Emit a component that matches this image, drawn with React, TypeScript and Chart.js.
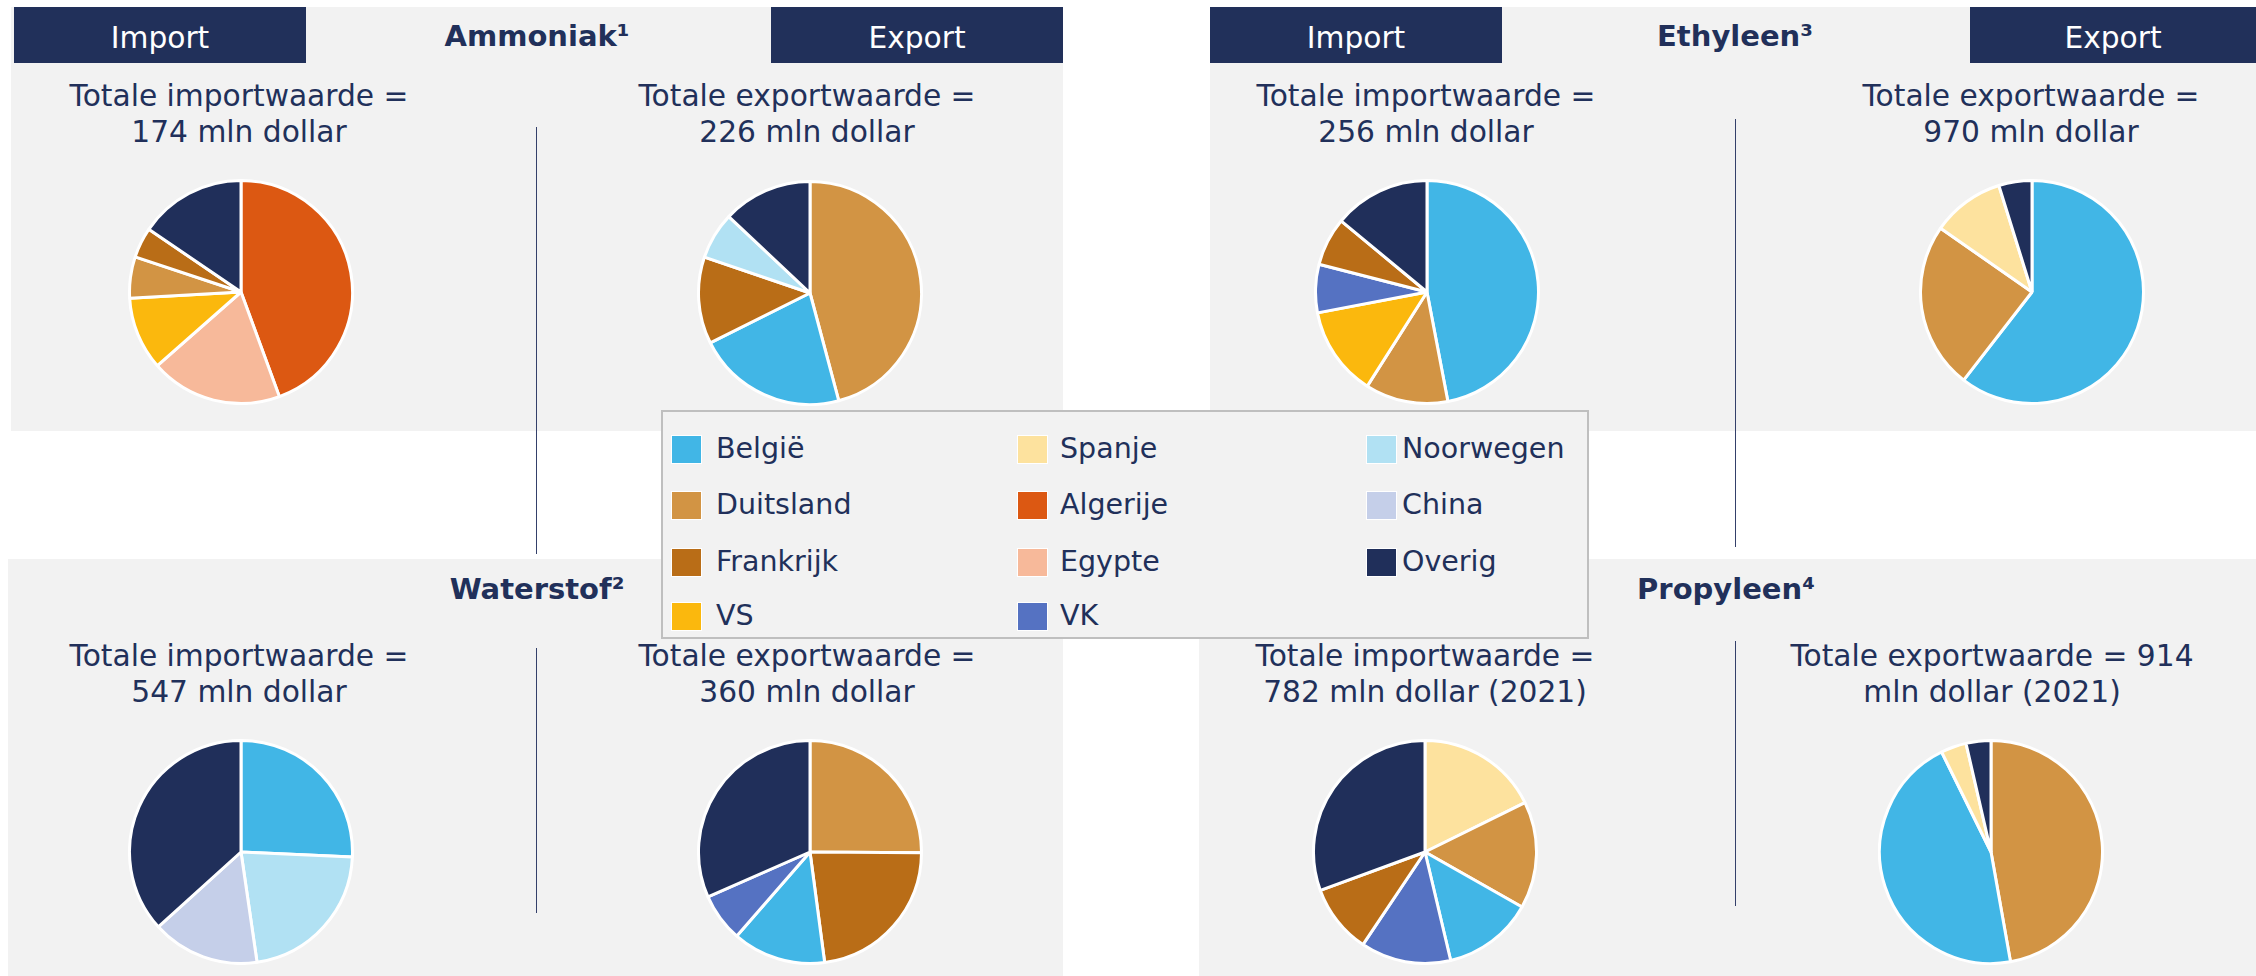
import React, { useEffect, useRef } from "react";
import { Chart, registerables } from "chart.js";
Chart.register(...registerables);

// ---------- DATA ----------
const legendLabels = ["België", "Spanje", "Noorwegen", "Duitsland", "Algerije", "China", "Frankrijk", "Egypte", "Overig", "VS", "VK"];

const ammoniakImportLabels = ["Algerije", "Egypte", "VS", "Duitsland", "Frankrijk", "Overig"];
const ammoniakImportValues = [44.4, 19.1, 10.6, 6.0, 4.4, 15.5];
const ammoniakExportLabels = ["Duitsland", "België", "Frankrijk", "Noorwegen", "Overig"];
const ammoniakExportValues = [45.9, 21.8, 12.6, 6.8, 13.0];

const ethyleenImportLabels = ["België", "Duitsland", "VS", "VK", "Frankrijk", "Overig"];
const ethyleenImportValues = [47, 12, 13, 7, 7, 14];
const ethyleenExportLabels = ["België", "Duitsland", "Spanje", "Overig"];
const ethyleenExportValues = [60.5, 24.2, 10.5, 4.8];

const waterstofImportLabels = ["België", "Noorwegen", "China", "Overig"];
const waterstofImportValues = [25.7, 22.0, 15.6, 36.7];
const waterstofExportLabels = ["Duitsland", "Frankrijk", "België", "VK", "Overig"];
const waterstofExportValues = [25.1, 22.8, 13.5, 7.0, 31.6];

const propyleenImportLabels = ["Spanje", "Duitsland", "België", "VK", "Frankrijk", "Overig"];
const propyleenImportValues = [17.7, 15.5, 13.1, 13.1, 10.0, 30.6];
const propyleenExportLabels = ["Duitsland", "België", "Spanje", "Overig"];
const propyleenExportValues = [47.2, 45.5, 3.7, 3.6];

const titles = ["Ammoniak¹", "Ethyleen³", "Waterstof²", "Propyleen⁴"];
const importTexts = [
  ["Totale importwaarde =", "174 mln dollar"],
  ["Totale importwaarde =", "256 mln dollar"],
  ["Totale importwaarde =", "547 mln dollar"],
  ["Totale importwaarde =", "782 mln dollar (2021)"],
];
const exportTexts = [
  ["Totale exportwaarde =", "226 mln dollar"],
  ["Totale exportwaarde =", "970 mln dollar"],
  ["Totale exportwaarde =", "360 mln dollar"],
  ["Totale exportwaarde = 914", "mln dollar (2021)"],
];

// ---------- STYLE ----------
const NAVY = "#21305a";
const TEXT = "#21305a";
const PANEL = "#f2f2f2";
const FONT = "'DejaVu Sans', Verdana, sans-serif";

const countryColors: Record<string, string> = {
  "België": "#41b6e6",
  "Spanje": "#fde29e",
  "Noorwegen": "#b1e1f3",
  "Duitsland": "#d29444",
  "Algerije": "#dc5812",
  "China": "#c5cfe9",
  "Frankrijk": "#b96d17",
  "Egypte": "#f7b99a",
  "Overig": "#202f5a",
  "VS": "#fbb80d",
  "VK": "#5572c2",
};

const PIE_SIZE = 226;

function Pie({ labels, values, cx, cy }: { labels: string[]; values: number[]; cx: number; cy: number }) {
  const ref = useRef<HTMLCanvasElement>(null);
  useEffect(() => {
    const chart = new Chart(ref.current!, {
      type: "pie",
      data: {
        labels,
        datasets: [
          {
            data: values,
            backgroundColor: labels.map((l) => countryColors[l]),
            borderColor: "#ffffff",
            borderWidth: 3,
          },
        ],
      },
      options: {
        responsive: false,
        animation: false,
        devicePixelRatio: 1,
        events: [],
        layout: { padding: 0 },
        plugins: { legend: { display: false }, tooltip: { enabled: false } },
      },
    });
    return () => chart.destroy();
  }, []);
  return (
    <canvas
      ref={ref}
      width={PIE_SIZE}
      height={PIE_SIZE}
      style={{ position: "absolute", left: cx - PIE_SIZE / 2, top: cy - PIE_SIZE / 2, width: PIE_SIZE, height: PIE_SIZE }}
    />
  );
}

function Box({ x, y, w, h, bg }: { x: number; y: number; w: number; h: number; bg: string }) {
  return <div style={{ position: "absolute", left: x, top: y, width: w, height: h, background: bg }} />;
}

function CText({ cx, top, lines, size = 29.7, bold = false, color = TEXT }: { cx: number; top: number; lines: string[]; size?: number; bold?: boolean; color?: string }) {
  return (
    <div
      style={{
        position: "absolute",
        left: cx - 300,
        width: 600,
        top,
        textAlign: "center",
        fontFamily: FONT,
        fontSize: size,
        lineHeight: "36px",
        fontWeight: bold ? 700 : 400,
        color,
        whiteSpace: "nowrap",
      }}
    >
      {lines.map((l, i) => (
        <div key={i}>{l}</div>
      ))}
    </div>
  );
}

function VLine({ x, y1, y2 }: { x: number; y1: number; y2: number }) {
  return <div style={{ position: "absolute", left: x, top: y1, width: 1, height: y2 - y1, background: "#34406a" }} />;
}

const legendCols = [
  { sx: 671, tx: 718 },
  { sx: 1017, tx: 1062 },
  { sx: 1366, tx: 1404 },
];
const legendRows = [449, 505, 562, 616];

export default function App() {
  return (
    <div style={{ position: "absolute", left: 0, top: 0, width: 2256, height: 976, background: "#ffffff", overflow: "hidden" }}>
      {/* panels */}
      <Box x={11} y={7} w={1052} h={424} bg={PANEL} />
      <Box x={1210} y={7} w={1046} h={424} bg={PANEL} />
      <Box x={8} y={559} w={1055} h={417} bg={PANEL} />
      <Box x={1199} y={559} w={1057} h={417} bg={PANEL} />

      {/* header boxes */}
      <Box x={14} y={7} w={292} h={56} bg={NAVY} />
      <Box x={771} y={7} w={292} h={56} bg={NAVY} />
      <Box x={1210} y={7} w={292} h={56} bg={NAVY} />
      <Box x={1970} y={7} w={286} h={56} bg={NAVY} />
      <CText cx={160} top={20} lines={["Import"]} color="#ffffff" />
      <CText cx={917} top={20} lines={["Export"]} color="#ffffff" />
      <CText cx={1356} top={20} lines={["Import"]} color="#ffffff" />
      <CText cx={2113} top={20} lines={["Export"]} color="#ffffff" />

      {/* titles */}
      <CText cx={537} top={18} lines={[titles[0]]} size={29} bold />
      <CText cx={1735} top={18} lines={[titles[1]]} size={29} bold />
      <CText cx={537} top={571} lines={[titles[2]]} size={29} bold />
      <CText cx={1726} top={571} lines={[titles[3]]} size={29} bold />

      {/* totals */}
      <CText cx={239} top={78} lines={importTexts[0]} />
      <CText cx={807} top={78} lines={exportTexts[0]} />
      <CText cx={1426} top={78} lines={importTexts[1]} />
      <CText cx={2031} top={78} lines={exportTexts[1]} />
      <CText cx={239} top={638} lines={importTexts[2]} />
      <CText cx={807} top={638} lines={exportTexts[2]} />
      <CText cx={1425} top={638} lines={importTexts[3]} />
      <CText cx={1992} top={638} lines={exportTexts[3]} />

      {/* dividers */}
      <VLine x={536} y1={127} y2={554} />
      <VLine x={1735} y1={119} y2={547} />
      <VLine x={536} y1={648} y2={913} />
      <VLine x={1735} y1={641} y2={906} />

      {/* pies */}
      <Pie labels={ammoniakImportLabels} values={ammoniakImportValues} cx={241} cy={292} />
      <Pie labels={ammoniakExportLabels} values={ammoniakExportValues} cx={810} cy={293} />
      <Pie labels={ethyleenImportLabels} values={ethyleenImportValues} cx={1427} cy={292} />
      <Pie labels={ethyleenExportLabels} values={ethyleenExportValues} cx={2032} cy={292} />
      <Pie labels={waterstofImportLabels} values={waterstofImportValues} cx={241} cy={852} />
      <Pie labels={waterstofExportLabels} values={waterstofExportValues} cx={810} cy={852} />
      <Pie labels={propyleenImportLabels} values={propyleenImportValues} cx={1425} cy={852} />
      <Pie labels={propyleenExportLabels} values={propyleenExportValues} cx={1991} cy={852} />

      {/* legend */}
      <div
        style={{
          position: "absolute",
          left: 661,
          top: 410,
          width: 928,
          height: 229,
          boxSizing: "border-box",
          border: "2px solid #bfbfbf",
          background: PANEL,
        }}
      />
      {legendLabels.map((label, i) => {
        const col = legendCols[i % 3];
        const cy = legendRows[Math.floor(i / 3)];
        return (
          <React.Fragment key={label}>
            <div
              style={{
                position: "absolute",
                left: col.sx,
                top: cy - 14,
                width: 31,
                height: 29,
                boxSizing: "border-box",
                border: "1px solid #ffffff",
                background: countryColors[label],
              }}
            />
            <div
              style={{
                position: "absolute",
                left: col.tx - 2,
                top: cy - 18,
                height: 36,
                lineHeight: "36px",
                fontFamily: FONT,
                fontSize: 28.5,
                color: TEXT,
                whiteSpace: "nowrap",
              }}
            >
              {label}
            </div>
          </React.Fragment>
        );
      })}
    </div>
  );
}
